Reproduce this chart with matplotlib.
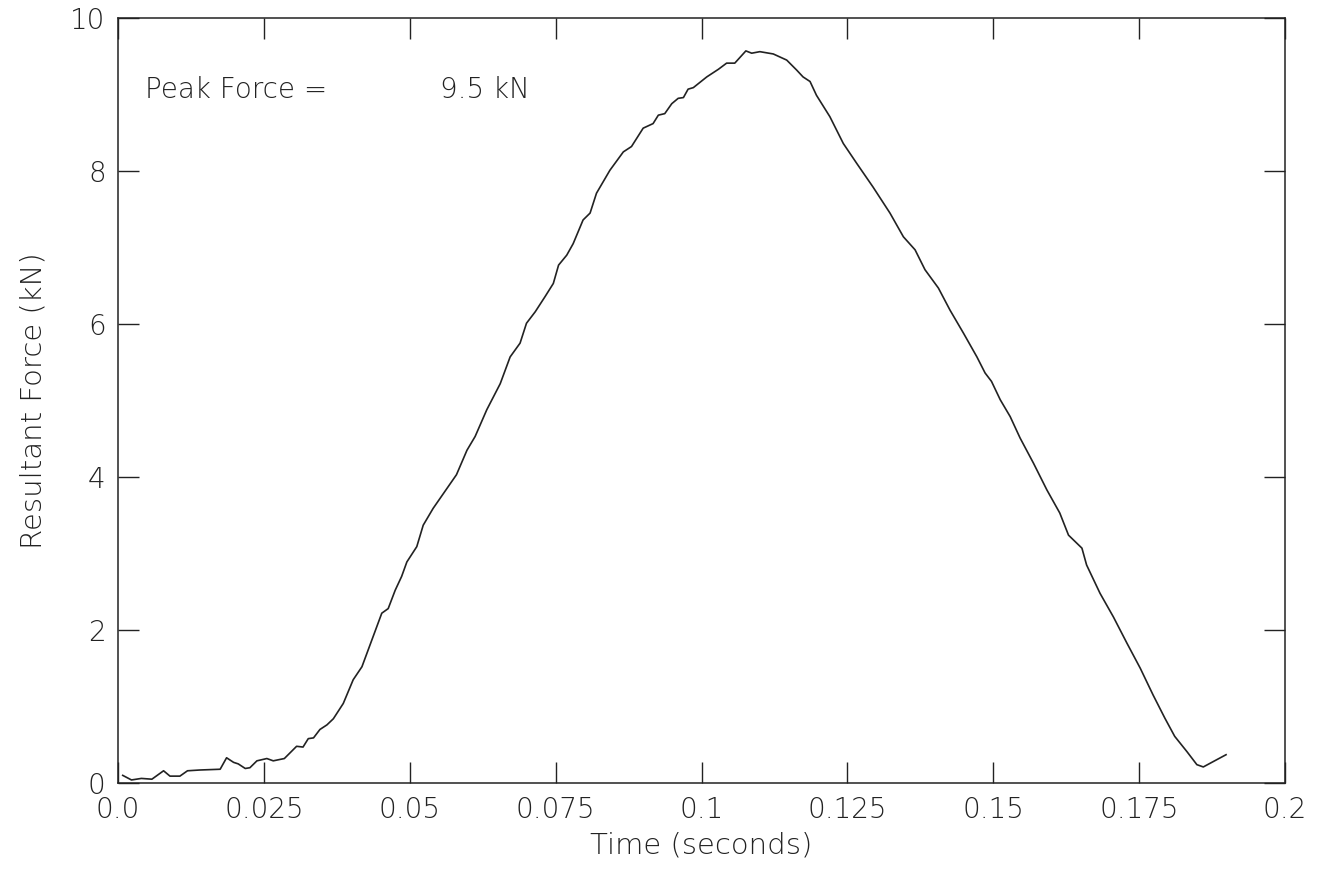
import numpy as np
import matplotlib
matplotlib.use('Agg')
import matplotlib.pyplot as plt

# resultant force trace
time_s = [0.0008, 0.0023, 0.0040, 0.0058, 0.0078, 0.0089, 0.0106, 0.0119, 0.0140,
          0.0175, 0.0186, 0.0198, 0.0206, 0.0218, 0.0226, 0.0238, 0.0255, 0.0266,
          0.0285, 0.0306, 0.0317, 0.0326, 0.0335, 0.0346, 0.0358, 0.0369, 0.0386,
          0.0403, 0.0418, 0.0435, 0.0452, 0.0463, 0.0475, 0.0486, 0.0495, 0.0512,
          0.0523, 0.0540, 0.0560, 0.0580, 0.0598, 0.0612, 0.0632, 0.0655, 0.0672,
          0.0689, 0.0700, 0.0715, 0.0732, 0.0746, 0.0755, 0.0769, 0.0780, 0.0797,
          0.0809, 0.0820, 0.0843, 0.0866, 0.0880, 0.0900, 0.0917, 0.0926, 0.0937,
          0.0949, 0.0960, 0.0969, 0.0977, 0.0986, 0.1009, 0.1029, 0.1043, 0.1057,
          0.1076, 0.1086, 0.1100, 0.1123, 0.1146, 0.1163, 0.1174, 0.1186, 0.1197,
          0.1220, 0.1243, 0.1266, 0.1294, 0.1323, 0.1346, 0.1366, 0.1383, 0.1406,
          0.1426, 0.1449, 0.1472, 0.1486, 0.1497, 0.1512, 0.1529, 0.1546, 0.1569,
          0.1592, 0.1614, 0.1629, 0.1652, 0.1660, 0.1683, 0.1706, 0.1729, 0.1752,
          0.1774, 0.1794, 0.1811, 0.1832, 0.1849, 0.1860, 0.1877, 0.1899]
force_kn = [0.10, 0.04, 0.06, 0.05, 0.16, 0.09, 0.09, 0.16, 0.17,
            0.18, 0.33, 0.27, 0.25, 0.19, 0.20, 0.29, 0.32, 0.29,
            0.32, 0.48, 0.47, 0.58, 0.59, 0.70, 0.76, 0.84, 1.04,
            1.35, 1.52, 1.87, 2.22, 2.28, 2.52, 2.70, 2.89, 3.09,
            3.37, 3.59, 3.81, 4.03, 4.35, 4.53, 4.88, 5.22, 5.57,
            5.75, 6.01, 6.16, 6.36, 6.53, 6.77, 6.90, 7.05, 7.36,
            7.45, 7.71, 8.01, 8.25, 8.32, 8.56, 8.62, 8.73, 8.75,
            8.88, 8.95, 8.96, 9.07, 9.09, 9.23, 9.33, 9.41, 9.41,
            9.57, 9.54, 9.56, 9.53, 9.45, 9.32, 9.23, 9.17, 8.99,
            8.71, 8.36, 8.10, 7.79, 7.45, 7.14, 6.97, 6.71, 6.47,
            6.18, 5.88, 5.57, 5.36, 5.25, 5.01, 4.79, 4.51, 4.18,
            3.83, 3.53, 3.24, 3.07, 2.85, 2.48, 2.17, 1.83, 1.50,
            1.15, 0.85, 0.61, 0.41, 0.24, 0.21, 0.28, 0.37]

x_ticks = [0.0, 0.025, 0.05, 0.075, 0.1, 0.125, 0.15, 0.175, 0.2]
x_labels = ['0.0', '0.025', '0.05', '0.075', '0.1', '0.125', '0.15', '0.175', '0.2']
y_ticks = [0, 2, 4, 6, 8, 10]

ink = '#222222'
plt.rcParams['font.family'] = 'DejaVu Sans'
plt.rcParams['font.weight'] = 'light'
plt.rcParams['axes.labelweight'] = 'light'

fig = plt.figure(figsize=(13.28, 8.74), dpi=100)
ax = fig.add_axes([0.0889, 0.1041, 0.8787, 0.8753])
ax.plot(time_s, force_kn, color=ink, lw=1.2)

ax.set_xlim(0, 0.2)
ax.set_ylim(0, 10)
ax.set_xticks(x_ticks)
ax.set_xticklabels(x_labels)
ax.set_yticks(y_ticks)
ax.tick_params(direction='in', length=15, width=1, color=ink, labelcolor=ink,
               labelsize=20, top=True, right=True, pad=9)
for s in ax.spines.values():
    s.set_color(ink)
    s.set_linewidth(1.1)

ax.set_xlabel('Time (seconds)', fontsize=21, color=ink, labelpad=6)
ax.set_ylabel('Resultant Force (kN)', fontsize=21, color=ink, labelpad=16)

ax.text(0.023, 0.895, 'Peak Force =', transform=ax.transAxes, fontsize=20, color=ink)
ax.text(0.276, 0.895, '9.5 kN', transform=ax.transAxes, fontsize=20, color=ink)

fig.savefig('out.png', dpi=100, facecolor='white')
